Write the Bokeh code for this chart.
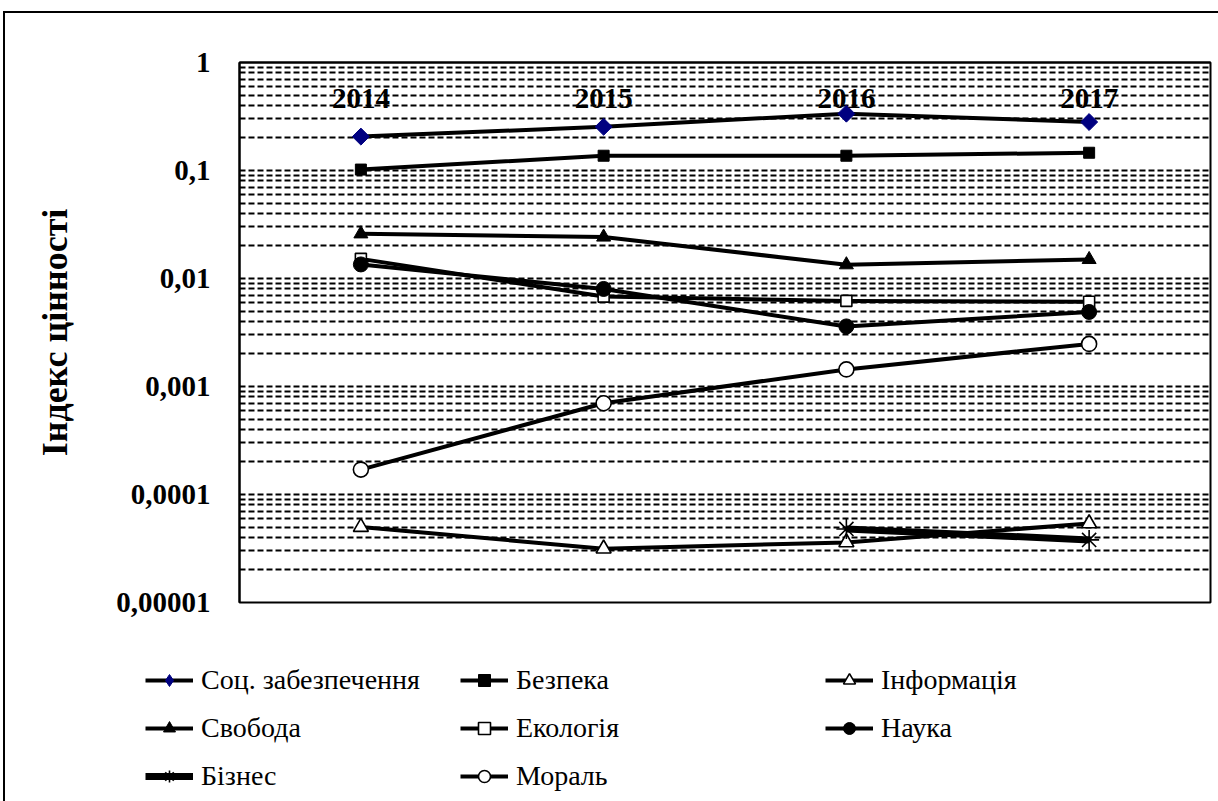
import math

from bokeh.embed import file_html
from bokeh.layouts import column
from bokeh.models import (ColumnDataSource, CustomJSTickFormatter, FactorRange,
                          FixedTicker, Legend, LegendItem)
from bokeh.plotting import figure
from bokeh.resources import INLINE

# ---- data -------------------------------------------------------------
years = ["2014", "2015", "2016", "2017"]

soc_zabezpechennia = [0.206, 0.254, 0.336, 0.281]
bezpeka = [0.102, 0.137, 0.137, 0.146]
informatsiia = [5.0e-5, 3.15e-5, 3.6e-5, 5.4e-5]
svoboda = [0.0259, 0.0242, 0.0134, 0.0150]
ekolohiia = [0.0152, 0.0068, 0.0062, 0.0061]
nauka = [0.0135, 0.0080, 0.0036, 0.0049]
biznes = [float("nan"), float("nan"), 4.8e-5, 3.8e-5]
moral = [0.00017, 0.00070, 0.00144, 0.00248]

decade_ticks = [1e-5, 1e-4, 1e-3, 1e-2, 1e-1, 1.0]

SERIF = "Liberation Serif"
KEY_FONT = "'Liberation Serif', serif"
WIDTH = 1213

# ---- chart ------------------------------------------------------------
p = figure(
    width=WIDTH, height=611,
    x_range=FactorRange(*years, range_padding=0),
    y_axis_type="log", y_range=(1e-5, 1.0),
    x_axis_location="above",
    output_backend="svg", toolbar_location=None,
    min_border_left=234, min_border_right=8,
    min_border_top=49, min_border_bottom=22,
)
p.frame_align = False
p.background_fill_color = "white"
p.border_fill_color = "white"
p.outline_line_color = "black"
p.outline_line_width = 2

# log axis with a dashed grid on every decade and every intermediate step
minor = [k * 10.0 ** d for d in range(-5, 0) for k in range(2, 10)]
p.yaxis.ticker = FixedTicker(ticks=decade_ticks, minor_ticks=minor)
p.yaxis.formatter = CustomJSTickFormatter(code="""
    const d = Math.round(-Math.log10(tick));
    return d <= 0 ? "1" : tick.toFixed(d).replace(".", ",");
""")
p.yaxis.axis_label = "Індекс цінності"
p.yaxis.axis_label_text_font = SERIF
p.yaxis.axis_label_text_font_style = "bold"
p.yaxis.axis_label_text_font_size = "36px"
p.yaxis.axis_label_text_color = "black"
p.yaxis.axis_label_standoff = 38
p.yaxis.major_label_text_font = SERIF
p.yaxis.major_label_text_font_style = "bold"
p.yaxis.major_label_text_font_size = "29px"
p.yaxis.major_label_text_color = "black"
p.yaxis.major_label_standoff = 29
p.yaxis.major_tick_out = 0
p.yaxis.major_tick_in = 0
p.yaxis.minor_tick_out = 0
p.yaxis.minor_tick_in = 0
p.yaxis.axis_line_width = 2

p.ygrid.grid_line_color = "black"
p.ygrid.grid_line_width = 2
p.ygrid.grid_line_dash = "6 3"
p.ygrid.minor_grid_line_color = "black"
p.ygrid.minor_grid_line_width = 2
p.ygrid.minor_grid_line_dash = "6 3"
p.xgrid.visible = False

# year labels hang just below the top edge of the plot area
p.xaxis.major_label_text_font = SERIF
p.xaxis.major_label_text_font_style = "bold"
p.xaxis.major_label_text_font_size = "29px"
p.xaxis.major_label_text_color = "black"
p.xaxis.major_label_standoff = -45
p.xaxis.major_tick_out = 0
p.xaxis.major_tick_in = 0
p.xaxis.axis_line_width = 2

# ---- series -------------------------------------------------------------
src = ColumnDataSource(dict(
    year=years,
    soc=soc_zabezpechennia, bez=bezpeka, inf=informatsiia, svo=svoboda,
    eko=ekolohiia, nau=nauka, biz=biznes, mor=moral,
))

styles = [
    # column, label, marker, size, fill, line width, angle
    ("soc", "Соц. забезпечення", "square", 12, "#000080", 4, math.pi / 4),
    ("bez", "Безпека", "square", 11, "black", 4, 0),
    ("inf", "Інформація", "triangle", 15, "white", 4, 0),
    ("svo", "Свобода", "triangle", 14, "black", 4, 0),
    ("eko", "Екологія", "square", 11, "white", 4, 0),
    ("nau", "Наука", "circle", 15, "black", 4, 0),
    ("biz", "Бізнес", "asterisk", 20, "black", 7, 0),
    ("mor", "Мораль", "circle", 15, "white", 4, 0),
]


def draw(fig, col, marker, size, fill, lw, angle):
    ln = fig.line("year", col, source=src, line_color="black",
                  line_width=lw, line_join="round")
    edge = "#000080" if fill == "#000080" else "black"
    if fill == "white" or marker == "asterisk":
        edge_width = 1.6
    else:
        edge_width = 1
    sc = fig.scatter("year", col, source=src, marker=marker, size=size,
                     angle=angle, fill_color=fill, line_color=edge,
                     line_width=edge_width)
    return ln, sc


for col, label, marker, size, fill, lw, angle in styles:
    draw(p, col, marker, size, fill, lw, angle)

# ---- key panel under the chart ----------------------------------------
# The key reuses the same series; its value range lies above all data, so
# only the legend entries themselves are visible here.
kp = figure(
    width=WIDTH, height=177,
    x_range=FactorRange(*years, range_padding=0), y_range=(10, 20),
    x_axis_location=None, y_axis_location=None,
    output_backend="svg", toolbar_location=None, min_border=0,
)
kp.frame_align = False
kp.grid.visible = False
kp.outline_line_color = None
kp.background_fill_color = "white"
kp.border_fill_color = "white"

items = {}
for col, label, marker, size, fill, lw, angle in styles:
    # legend swatches are drawn unrotated, so the rhombus gets its own marker
    key_marker = "diamond" if angle else marker
    ln, sc = draw(kp, col, key_marker, size, fill, lw, 0)
    items[label] = LegendItem(label=label, renderers=[ln, sc])

key_columns = [
    (["Соц. забезпечення", "Свобода", "Бізнес"], 140, 4),
    (["Безпека", "Екологія", "Мораль"], 455, 4),
    (["Інформація", "Наука"], 820, 52),
]
for names, lx, ly in key_columns:
    leg = Legend(
        items=[items[n] for n in names], location=(lx, ly),
        orientation="vertical", padding=0, margin=0, spacing=6,
        glyph_width=48, glyph_height=30, label_height=42, label_standoff=8,
        border_line_alpha=0, background_fill_alpha=0,
    )
    leg.label_text_font = KEY_FONT
    leg.label_text_font_size = "28px"
    leg.label_text_font_style = "normal"
    leg.label_text_color = "black"
    kp.add_layout(leg, "center")

page = column(p, kp, spacing=0)
page.styles = {
    "margin-left": "3px", "margin-top": "11px",
    "border-left": "2px solid black", "border-top": "2px solid black",
}

open("out.html", "w").write(file_html(page, INLINE))
